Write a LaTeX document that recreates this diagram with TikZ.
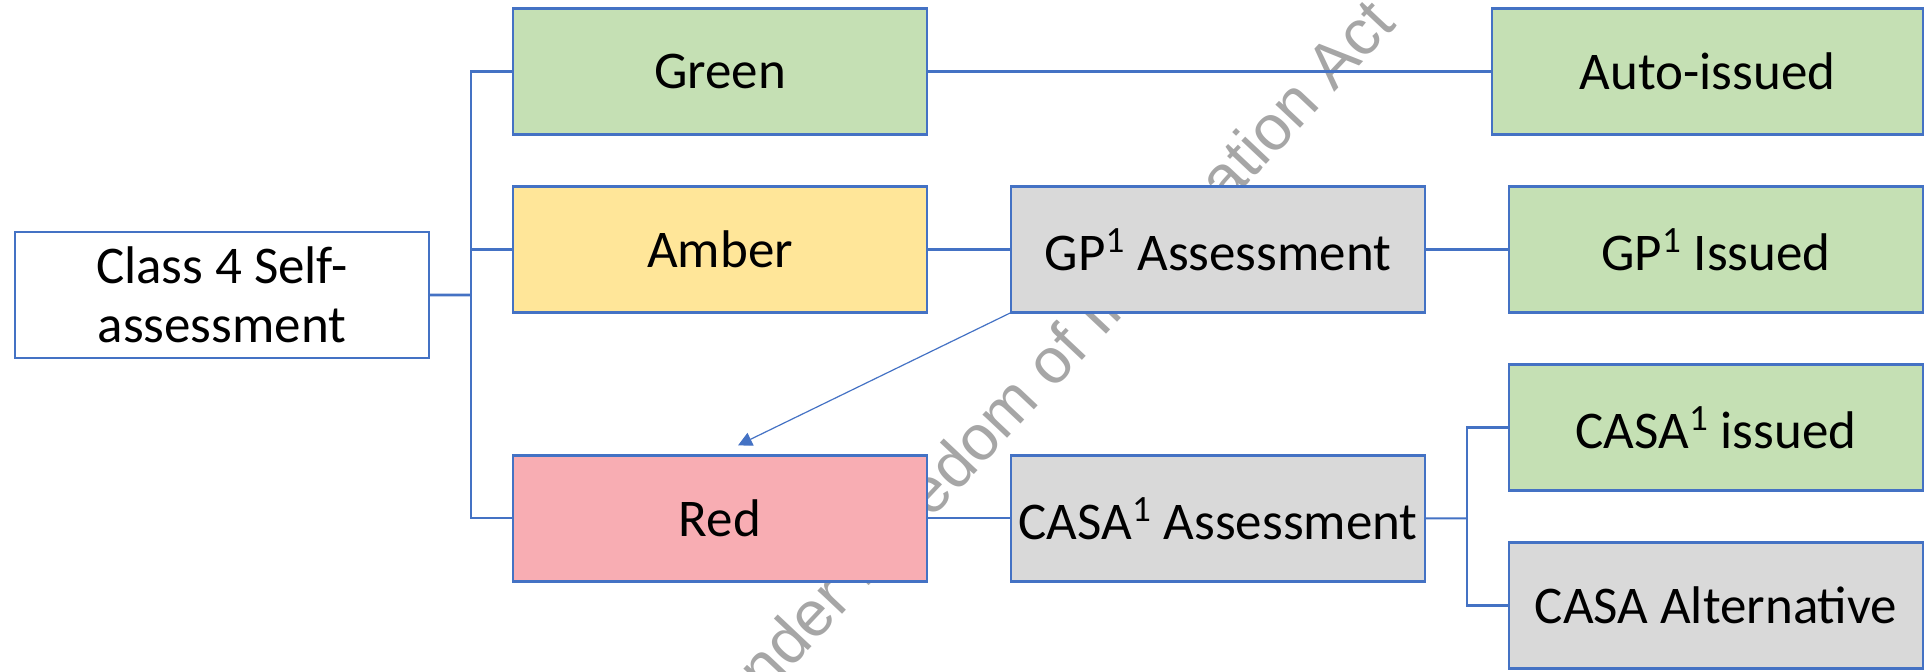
\documentclass[tikz,border=0pt]{standalone}
\usepackage{fontspec}
\setmainfont{Carlito}
\newfontfamily\wmfont{Liberation Sans}
\usetikzlibrary{positioning,calc,arrows.meta}

\definecolor{boxline}{HTML}{4472C4}
\definecolor{greenfill}{HTML}{C5E0B4}
\definecolor{amberfill}{HTML}{FFE699}
\definecolor{redfill}{HTML}{F8ADB3}
\definecolor{greyfill}{HTML}{D9D9D9}
\definecolor{wmgrey}{HTML}{A6A6A6}

\begin{document}
\begin{tikzpicture}[
    box/.style = {draw = boxline, line width = 1.2pt, outer sep = 0pt,
      minimum width = 207pt, minimum height = 63pt, inner sep = 2pt,
      align = center, font = \fontsize{26.5pt}{29.5pt}\selectfont},
    link/.style = {draw = boxline, line width = 1.1pt},
    jump/.style = {draw = boxline, line width = 0.6pt,
      -{Triangle[length = 7pt, width = 7pt]}},
  ]
  \useasboundingbox (0,0) rectangle (966pt,-336pt);

  \begin{scope}
    \clip (0,0) rectangle (966pt,-336pt);
    \node[rotate = 46.7, text = wmgrey, font = \wmfont\fontsize{32pt}{32pt}\selectfont]
      (wm) at (477.1pt,-231.2pt) {Released under Freedom of Information Act};
  \end{scope}

  \node[box, fill = greenfill] (green) at (360pt,-35.8pt) {Green};
  \node[box, fill = amberfill, below = 26pt of green] (amber) {Amber};
  \node[box, fill = redfill, below = 71.4pt of amber] (red) {Red};

  \coordinate (mid) at ($(green.west)!0.5!(red.west)$);
  \node[box, fill = white, left = 42pt of mid] (class4) {Class 4 Self-\\assessment};

  \node[box, fill = greyfill, right = 42pt of amber] (gpa) {GP\textsuperscript{1} Assessment};
  \node[box, fill = greyfill, right = 42pt of red] (casaa) {CASA\textsuperscript{1} Assessment};

  \node[box, fill = greenfill, right = 42pt of gpa] (gpi) {GP\textsuperscript{1} Issued};
  \node[box, fill = greenfill, below = 26pt of gpi] (casai) {CASA\textsuperscript{1} issued};
  \node[box, fill = greyfill, below = 26pt of casai] (alt) {CASA Alternative};
  \node[box, fill = greenfill, minimum width = 215.5pt, anchor = east]
    (auto) at (gpi.east |- green) {Auto-issued};

  \coordinate (trunk) at ($(class4.east)!0.5!(green.west |- class4.east)$);
  \draw[link, line width = 1.4pt] (class4.east) -- (trunk);
  \draw[link] (green.west) -| (trunk) |- (red.west);
  \draw[link] (amber.west) -- (amber.west -| trunk);

  \draw[link] (green) -- (auto);
  \draw[link] (amber) -- (gpa);
  \draw[link] (gpa) -- (gpi);
  \draw[link] (red) -- (casaa);

  \coordinate (fork) at ($(casaa.east)!0.5!(casai.west |- casaa.east)$);
  \draw[link] (casaa.east) -- (fork);
  \draw[link] (casai.west) -| (fork) |- (alt.west);

  \coordinate (redin) at ($(red.north)+(9pt,5pt)$);
  \draw[jump] (gpa.south west) -- (redin);
\end{tikzpicture}
\end{document}
